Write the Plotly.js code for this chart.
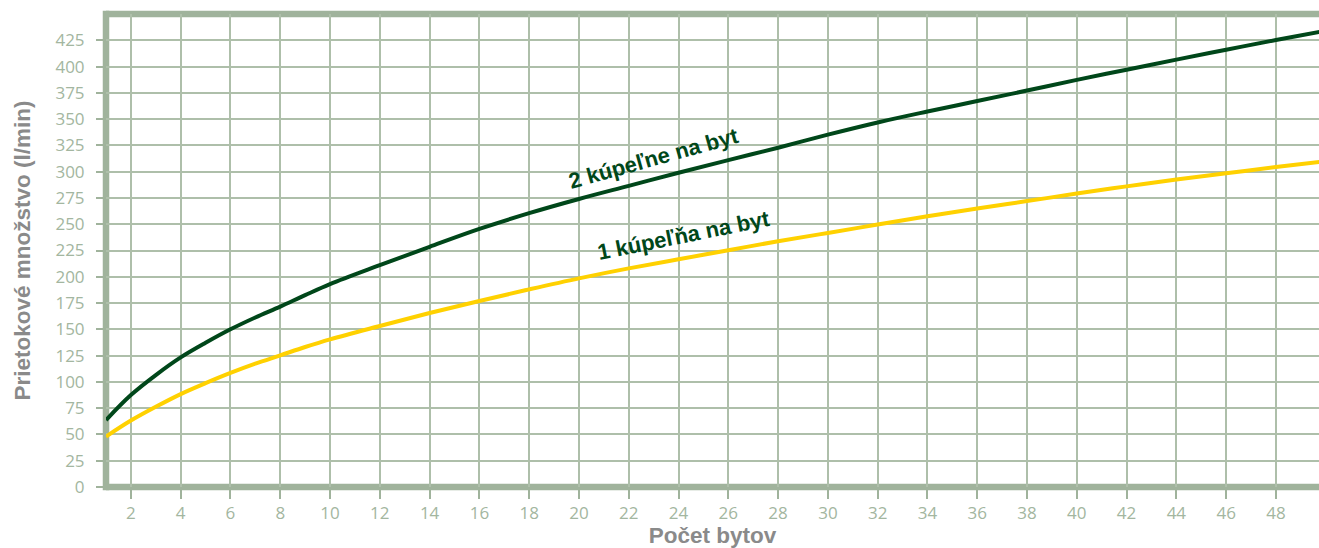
<!DOCTYPE html>
<html>
<head>
<meta charset="utf-8">
<script src="https://cdn.plot.ly/plotly-3.0.1.min.js"></script>
<style>html,body{margin:0;padding:0;background:#fff;}#chart{width:1319px;height:548px;}</style>
</head>
<body>
<div id="chart"></div>
<script>
// Počet bytov (x)
const bytes = [1, 2, 3, 4, 5, 6, 7, 8, 9, 10, 12, 14, 16, 18, 20, 22, 24, 26, 28, 30, 32, 34, 36, 38, 40, 42, 44, 46, 48, 50];
// 2 kúpeľne na byt (l/min)
const twoBath = [63.7, 87.5, 106.5, 123.3, 137.2, 150, 161.3, 171.6, 182.5, 193, 211, 228.5, 245.5, 260.5, 274, 286.5, 299, 311, 322.8, 335.2, 346.8, 357.2, 367.2, 377.2, 387.3, 397, 406.6, 416, 425.2, 434];
// 1 kúpeľňa na byt (l/min)
const oneBath = [48, 63.2, 76.3, 88.4, 98.8, 108.5, 117.3, 125.2, 133.2, 140.5, 153.2, 165.5, 177, 188, 198.5, 208, 216.6, 225.2, 233.8, 241.7, 249.7, 257.5, 265, 272, 279.2, 286, 292.5, 298.4, 304.5, 310];
const xTicks = [2, 4, 6, 8, 10, 12, 14, 16, 18, 20, 22, 24, 26, 28, 30, 32, 34, 36, 38, 40, 42, 44, 46, 48];
const yTicks = [0, 25, 50, 75, 100, 125, 150, 175, 200, 225, 250, 275, 300, 325, 350, 375, 400, 425];

const frame = '#a0b39c';
const grid = '#aebfaa';
const darkGreen = '#00471a';
const yellow = '#ffd100';
const tickFont = {family: 'Open Sans, sans-serif', size: 17, color: '#a3b6a0'};
const titleFont = {family: 'Liberation Sans, Arial, sans-serif', size: 22.5, color: '#8a8a8a', weight: 'bold'};
const labelFont = {family: 'Liberation Sans, Arial, sans-serif', size: 22, color: darkGreen, weight: 'bold'};

const traces = [
  {x: bytes, y: oneBath, type: 'scatter', mode: 'lines', name: '1 kúpeľňa na byt',
   line: {color: yellow, width: 4, shape: 'spline', smoothing: 1}, hoverinfo: 'x+y'},
  {x: bytes, y: twoBath, type: 'scatter', mode: 'lines', name: '2 kúpeľne na byt',
   line: {color: darkGreen, width: 4, shape: 'spline', smoothing: 1}, hoverinfo: 'x+y'}
];

const layout = {
  width: 1319, height: 548,
  margin: {l: 106, r: 0, t: 14, b: 61, pad: 0},
  paper_bgcolor: '#ffffff', plot_bgcolor: '#ffffff',
  showlegend: false,
  xaxis: {
    range: [1, 49.73], tickvals: xTicks, ticktext: xTicks.map(String),
    showgrid: true, gridcolor: grid, gridwidth: 1.5, zeroline: false, showline: false,
    ticks: 'outside', ticklen: 11, tickwidth: 1.5, tickcolor: frame,
    tickfont: tickFont, fixedrange: true,
    title: {text: 'Počet bytov', font: titleFont, standoff: 4}
  },
  yaxis: {
    range: [0, 450], tickvals: yTicks, ticktext: yTicks.map(String),
    showgrid: true, gridcolor: grid, gridwidth: 1.5, zeroline: false, showline: false,
    ticks: 'outside', ticklen: 9, tickwidth: 1.5, tickcolor: frame,
    ticklabelstandoff: 8,
    tickfont: tickFont, fixedrange: true,
    title: {text: 'Prietokové množstvo (l/min)', font: titleFont, standoff: 18}
  },
  shapes: [
    {type: 'line', xref: 'paper', yref: 'paper', x0: 0, x1: 0, y0: -0.007, y1: 1.007, layer: 'below', line: {color: frame, width: 6.5}},
    {type: 'line', xref: 'paper', yref: 'paper', x0: 0, x1: 1, y0: 0, y1: 0, layer: 'below', line: {color: frame, width: 6.5}},
    {type: 'line', xref: 'paper', yref: 'paper', x0: 0, x1: 1, y0: 1, y1: 1, layer: 'below', line: {color: frame, width: 6.5}}
  ],
  annotations: [
    {x: 22.98, y: 312.7, xref: 'x', yref: 'y', text: '2 kúpeľne na byt', showarrow: false,
     textangle: -15.5, xanchor: 'center', yanchor: 'middle', font: labelFont},
    {x: 24.19, y: 239.5, xref: 'x', yref: 'y', text: '1 kúpeľňa na byt', showarrow: false,
     textangle: -11.4, xanchor: 'center', yanchor: 'middle', font: labelFont}
  ]
};

Plotly.newPlot('chart', traces, layout, {displayModeBar: false});
</script>
</body>
</html>
